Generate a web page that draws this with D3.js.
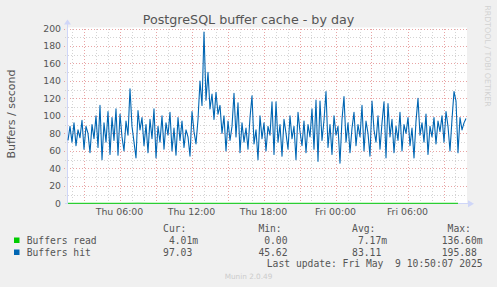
<!DOCTYPE html>
<html>
<head>
<meta charset="utf-8">
<script src="https://cdn.jsdelivr.net/npm/d3@7"></script>
<style>
  body { margin: 0; background: #f0f0f0; }
  svg { display: block; }
</style>
</head>
<body>
<div id="chart"></div>
<script>
// ---- data ----
const startTime = '2025-05-08T01:37:30Z';   // left edge of the canvas
const endTime = '2025-05-09T10:57:30Z';     // right edge
const hitStepMin = 10;
const readStepMin = 50;

const hitValues = [
  72, 88, 70, 92, 66, 84, 75, 95, 62, 88, 80, 58, 90, 74, 100, 64, 112, 50, 92, 70,
  105, 56, 98, 72, 108, 55, 102, 76, 60, 94, 78, 131, 88, 70, 52, 106, 84, 98, 66, 90,
  58, 96, 74, 108, 52, 88, 70, 100, 62, 92, 78, 104, 60, 86, 55, 98, 72, 94, 64, 84,
  76, 54, 105, 82, 68, 96, 140, 112, 196, 118, 150, 108, 125, 96, 127, 102, 112, 80, 100, 60,
  94, 72, 88, 126, 76, 115, 58, 92, 70, 86, 62, 98, 123, 68, 84, 50, 100, 74, 92, 60,
  88, 78, 116, 56, 116, 70, 90, 54, 96, 80, 62, 100, 74, 88, 50, 104, 82, 66, 94, 58,
  90, 76, 108, 62, 118, 48, 117, 72, 95, 128, 64, 90, 56, 100, 78, 88, 46, 96, 122, 70,
  92, 58, 86, 104, 66, 90, 76, 112, 60, 94, 80, 54, 117, 84, 70, 100, 62, 92, 116, 52,
  114, 76, 96, 58, 88, 72, 104, 60, 90, 80, 98, 66, 86, 52, 94, 120, 78, 92, 70, 102,
  56, 88, 76, 98, 68, 94, 82, 100, 70, 105, 88, 60, 96, 128, 117, 58, 98, 84, 92, 97
];

const readValues = [
  0, 0.004, 0, 0.012, 0, 0, 0.008, 0.137, 0.02, 0, 0.006, 0, 0.004, 0, 0.01, 0,
  0, 0.006, 0, 0.004, 0.009, 0, 0, 0.005, 0, 0.012, 0, 0.004, 0, 0.007, 0, 0.003,
  0, 0.008, 0, 0, 0.005, 0, 0.006, 0.004
];

const yTicks = [0, 20, 40, 60, 80, 100, 120, 140, 160, 180, 200];
const xLabels = ['2025-05-08T06:00:00Z', '2025-05-08T12:00:00Z', '2025-05-08T18:00:00Z',
                 '2025-05-09T00:00:00Z', '2025-05-09T06:00:00Z'];

const seriesNames = ['Buffers read', 'Buffers hit'];
const seriesColors = ['#00cc00', '#0066b3'];
const curValues = [0.00401, 97.03];
const minValues = [0, 45.62];
const avgValues = [0.00717, 83.11];
const maxValues = [0.1366, 195.88];
const lastUpdate = 'Last update: Fri May  9 10:50:07 2025';

// ---- layout ----
const width = 497, height = 287;
const plot = { left: 67, right: 467, top: 28.5, bottom: 203.3 };
const fontColor = '#555';
const mono = '"DejaVu Sans Mono", monospace';
const sans = '"DejaVu Sans", sans-serif';

const svg = d3.select('#chart').append('svg')
  .attr('width', width)
  .attr('height', height)
  .attr('viewBox', [0, 0, width, height]);

const t0 = new Date(startTime), t1 = new Date(endTime);
const x = d3.scaleUtc().domain([t0, t1]).range([plot.left, plot.right]);
const y = d3.scaleLinear().domain([0, 200]).range([plot.bottom, plot.top]);

const hitData = hitValues.map((v, i) => ({ t: d3.utcMinute.offset(t0, 5 + i * hitStepMin), v }));
const readData = readValues.map((v, i) => ({ t: d3.utcMinute.offset(t0, 5 + i * readStepMin), v }));

// canvas
svg.append('rect')
  .attr('x', plot.left).attr('y', plot.top - 1)
  .attr('width', plot.right - plot.left).attr('height', plot.bottom - plot.top + 1)
  .attr('fill', '#fff');

// ---- grid ----
const grid = svg.append('g').attr('stroke-width', 1).attr('shape-rendering', 'crispEdges');

// minor: every hour / every 10
grid.selectAll('.vminor')
  .data(d3.utcHour.range(t0, t1).filter(d => d.getUTCHours() % 3 !== 0))
  .join('line')
  .attr('x1', d => Math.round(x(d)) + 0.5).attr('x2', d => Math.round(x(d)) + 0.5)
  .attr('y1', plot.top).attr('y2', plot.bottom + 2)
  .attr('stroke', '#d4d4d4').attr('stroke-dasharray', '1,2');

grid.selectAll('.hminor')
  .data(d3.range(10, 200, 20))
  .join('line')
  .attr('x1', plot.left - 2).attr('x2', plot.right)
  .attr('y1', d => Math.round(y(d)) + 0.5).attr('y2', d => Math.round(y(d)) + 0.5)
  .attr('stroke', '#d4d4d4').attr('stroke-dasharray', '1,2');

// major: every 3 hours / every 20
grid.selectAll('.vmajor')
  .data(d3.utcHour.every(3).range(t0, t1))
  .join('line')
  .attr('x1', d => Math.round(x(d)) + 0.5).attr('x2', d => Math.round(x(d)) + 0.5)
  .attr('y1', plot.top).attr('y2', plot.bottom + 3)
  .attr('stroke', '#e8a4a4').attr('stroke-dasharray', '1,2');

grid.selectAll('.hmajor')
  .data(yTicks.filter(d => d > 0))
  .join('line')
  .attr('x1', plot.left - 3).attr('x2', plot.right)
  .attr('y1', d => Math.round(y(d)) + 0.5).attr('y2', d => Math.round(y(d)) + 0.5)
  .attr('stroke', '#e8a4a4').attr('stroke-dasharray', '1,2');

// ---- axes (munin style, light blue with arrows) ----
const axisColor = '#cfd6f8';
svg.append('line')
  .attr('x1', plot.left + 0.5).attr('x2', plot.left + 0.5)
  .attr('y1', plot.bottom).attr('y2', plot.top - 5)
  .attr('stroke', axisColor);
svg.append('line')
  .attr('x1', plot.left - 2).attr('x2', plot.right + 2)
  .attr('y1', Math.round(plot.bottom) + 0.5).attr('y2', Math.round(plot.bottom) + 0.5)
  .attr('stroke', axisColor);
svg.append('path')
  .attr('d', `M${plot.left - 3},${plot.top - 4}L${plot.left + 4},${plot.top - 4}L${plot.left + 0.5},${plot.top - 9}Z`)
  .attr('fill', axisColor);
svg.append('path')
  .attr('d', `M${plot.right + 1},${plot.bottom - 3}L${plot.right + 1},${plot.bottom + 4}L${plot.right + 7},${plot.bottom + 0.5}Z`)
  .attr('fill', axisColor);

// tick labels
svg.append('g')
  .selectAll('text')
  .data(yTicks)
  .join('text')
  .attr('x', 61)
  .attr('y', d => y(d) + 3.3)
  .attr('text-anchor', 'end')
  .style('font', `9.3px ${sans}`)
  .attr('fill', fontColor)
  .text(d => d);

svg.append('g')
  .selectAll('text')
  .data(xLabels.map(d => new Date(d)))
  .join('text')
  .attr('x', d => x(d))
  .attr('y', 215)
  .attr('text-anchor', 'middle')
  .style('font', `9.4px ${sans}`)
  .attr('fill', fontColor)
  .text(d3.utcFormat('%a %H:%M'));

// ---- lines ----
const line = d3.line().x(d => x(d.t)).y(d => y(d.v));

svg.append('path')
  .datum(readData)
  .attr('d', line)
  .attr('fill', 'none')
  .attr('stroke', seriesColors[0])
  .attr('stroke-width', 1);

svg.append('path')
  .datum(hitData)
  .attr('d', line)
  .attr('fill', 'none')
  .attr('stroke', seriesColors[1])
  .attr('stroke-width', 1.1)
  .attr('stroke-linejoin', 'round');

// ---- titles ----
svg.append('text')
  .attr('x', 248.5).attr('y', 24)
  .attr('text-anchor', 'middle')
  .style('font', `12.7px ${sans}`)
  .attr('fill', fontColor)
  .text('PostgreSQL buffer cache - by day');

svg.append('text')
  .attr('transform', 'translate(15,114) rotate(-90)')
  .attr('text-anchor', 'middle')
  .style('font', `11px ${sans}`)
  .attr('fill', fontColor)
  .text('Buffers / second');

svg.append('text')
  .attr('transform', 'translate(485,56) rotate(90)')
  .attr('text-anchor', 'middle')
  .style('font', `7.9px ${sans}`)
  .attr('fill', '#d2d2d2')
  .text('RRDTOOL / TOBI OETIKER');

svg.append('text')
  .attr('x', 248.5).attr('y', 279)
  .attr('text-anchor', 'middle')
  .style('font', `7.3px ${sans}`)
  .attr('fill', '#cccccc')
  .text('Munin 2.0.49');

// ---- legend ----
const charW = 5.84;
const colEnds = [198.1, 293.4, 387.1, 482.6];
const colHeads = ['Cur:', 'Min:', 'Avg:', 'Max:'];
const cols = [curValues, minValues, avgValues, maxValues];
const fmt = v => (v !== 0 && Math.abs(v) < 1) ? (v * 1000).toFixed(2) + 'm' : v.toFixed(2);

const legend = svg.append('g')
  .style('font', `9.7px ${mono}`)
  .attr('fill', fontColor);

legend.selectAll('.head')
  .data(colHeads)
  .join('text')
  .attr('x', (d, i) => colEnds[i] - 2 * charW)
  .attr('y', 231.5)
  .attr('text-anchor', 'end')
  .text(d => d);

seriesNames.forEach((name, r) => {
  const yy = 243.5 + r * 12;
  legend.append('rect')
    .attr('x', 14).attr('y', yy - 6)
    .attr('width', 5.5).attr('height', 5.5)
    .attr('fill', seriesColors[r]);
  legend.append('text')
    .attr('x', 26.7).attr('y', yy)
    .text(name);
  cols.forEach((vals, c) => {
    const s = fmt(vals[r]);
    legend.append('text')
      .attr('x', s.endsWith('m') ? colEnds[c] : colEnds[c] - charW)
      .attr('y', yy)
      .attr('text-anchor', 'end')
      .text(s);
  });
});

legend.append('text')
  .attr('x', colEnds[3]).attr('y', 266.8)
  .attr('text-anchor', 'end')
  .attr('xml:space', 'preserve')
  .style('white-space', 'pre')
  .text(lastUpdate);
</script>
</body>
</html>
